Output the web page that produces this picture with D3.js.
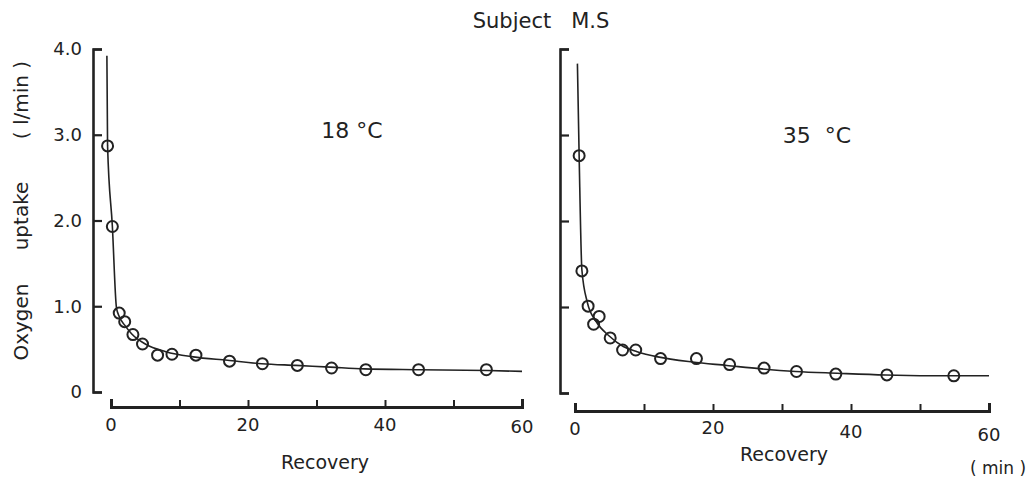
<!DOCTYPE html>
<html>
<head>
<meta charset="utf-8">
<script src="https://cdn.jsdelivr.net/npm/d3@7"></script>
<style>
  body { margin: 0; background: #fff; }
  svg { display: block; font-family: "DejaVu Sans", "Liberation Sans", sans-serif; }
  .axis path, .axis line { stroke: #222; }
  text { fill: #222; }
</style>
</head>
<body>
<div id="chart"></div>
<script>
// Data: recovery time (min) vs oxygen uptake (l/min)
const coldPointsT = [-0.5, 0.2, 1.2, 2.0, 3.2, 4.6, 6.8, 8.9, 12.4, 17.3, 22.1, 27.2, 32.2, 37.2, 44.9, 54.8];
const coldPointsV = [2.87, 1.93, 0.92, 0.82, 0.67, 0.56, 0.43, 0.44, 0.43, 0.36, 0.33, 0.31, 0.28, 0.26, 0.26, 0.26];
const coldCurveT = [-0.6, -0.5, 0.2, 0.8, 1.2, 2.0, 3.0, 5.0, 8.0, 12.0, 17.0, 22.0, 27.0, 32.0, 37.0, 45.0, 55.0, 60.0];
const coldCurveV = [3.92, 2.87, 1.93, 0.98, 0.88, 0.78, 0.68, 0.56, 0.47, 0.41, 0.37, 0.33, 0.31, 0.29, 0.27, 0.26, 0.25, 0.24];

const hotPointsT = [0.6, 1.0, 1.9, 2.7, 3.5, 5.1, 6.9, 8.8, 12.4, 17.6, 22.4, 27.4, 32.1, 37.8, 45.2, 54.9];
const hotPointsV = [2.76, 1.42, 1.01, 0.80, 0.89, 0.64, 0.50, 0.50, 0.40, 0.40, 0.33, 0.29, 0.25, 0.22, 0.21, 0.20];
const hotCurveT = [0.35, 0.6, 1.0, 1.8, 3.0, 5.0, 7.0, 9.0, 12.0, 17.0, 22.0, 27.0, 32.0, 38.0, 45.0, 55.0, 60.0];
const hotCurveV = [3.83, 2.76, 1.43, 1.05, 0.84, 0.66, 0.54, 0.48, 0.42, 0.36, 0.32, 0.28, 0.25, 0.23, 0.21, 0.20, 0.20];

const yTicks = [0, 1, 2, 3, 4];
const yTickLabels = ["0", "1.0", "2.0", "3.0", "4.0"];
const xTicks = [0, 10, 20, 30, 40, 50, 60];
const xTickLabels = [0, 20, 40, 60];

const config = {
    width: 1035,
    height: 478,
    panels: [
        { name: "18 °C", x: [111, 522], y: [392, 49], yAxisX: 93, xAxisY: 407,
          pT: coldPointsT, pV: coldPointsV, cT: coldCurveT, cV: coldCurveV,
          label: [352, 138], showYLabels: true, recovery: [325, 469],
          tickLabelDy: [24, 24, 24, 26] },
        { name: "35  °C", x: [575, 989], y: [393, 49], yAxisX: 560, xAxisY: 411,
          pT: hotPointsT, pV: hotPointsV, cT: hotCurveT, cV: hotCurveV,
          label: [817, 143], showYLabels: false, recovery: [784, 461],
          tickLabelDy: [24, 23, 27, 30] }
    ]
};

const svg = d3.select("#chart").append("svg")
    .attr("width", config.width)
    .attr("height", config.height);

svg.append("text")
    .attr("x", 541).attr("y", 28)
    .attr("text-anchor", "middle")
    .style("font-size", "21px")
    .attr("xml:space", "preserve")
    .text("Subject   M.S");

// y-axis title, three words spaced along the axis
const yTitle = [["Oxygen", 322], ["uptake", 216], ["( l/min )", 100]];
yTitle.forEach(([word, cy]) => {
    svg.append("text")
        .attr("transform", `translate(28,${cy}) rotate(-90)`)
        .attr("text-anchor", "middle")
        .attr("xml:space", "preserve")
        .style("font-size", "20px")
        .text(word);
});

config.panels.forEach(p => {
    const x = d3.scaleLinear().domain([0, 60]).range(p.x);
    const y = d3.scaleLinear().domain([0, 4]).range(p.y);

    // y axis: bracket with inward ticks
    const yAxis = svg.append("g")
        .attr("class", "axis")
        .attr("transform", `translate(${p.yAxisX},0)`)
        .call(d3.axisRight(y).tickValues(yTicks).tickSize(9).tickSizeOuter(9).tickFormat(""));
    yAxis.select(".domain").attr("stroke-width", 2.6).attr("fill", "none");
    yAxis.selectAll(".tick line").attr("stroke-width", 2.2);

    if (p.showYLabels) {
        svg.selectAll(null)
            .data(yTicks)
            .enter().append("text")
            .attr("x", 82)
            .attr("y", d => y(d))
            .attr("dy", "0.36em")
            .attr("text-anchor", "end")
            .style("font-size", "18px")
            .text((d, i) => yTickLabels[i]);
    }

    // x axis: separate line below, ticks pointing up
    const xAxis = svg.append("g")
        .attr("class", "axis")
        .attr("transform", `translate(0,${p.xAxisY})`)
        .call(d3.axisTop(x).tickValues(xTicks).tickSize(7).tickSizeOuter(8).tickFormat(""));
    xAxis.select(".domain").attr("stroke-width", 3).attr("fill", "none");
    xAxis.selectAll(".tick line").attr("stroke-width", 2);

    // hand-lettered tick labels sit at slightly uneven heights
    svg.selectAll(null)
        .data(xTickLabels)
        .enter().append("text")
        .attr("x", d => x(d))
        .attr("y", (d, i) => p.xAxisY + p.tickLabelDy[i])
        .attr("text-anchor", "middle")
        .style("font-size", "18px")
        .text(d => d);

    svg.append("text")
        .attr("x", p.recovery[0]).attr("y", p.recovery[1])
        .attr("text-anchor", "middle")
        .style("font-size", "19px")
        .text("Recovery");

    // fitted curve
    const curve = p.cT.map((t, i) => [t, p.cV[i]]);
    svg.append("path")
        .datum(curve)
        .attr("fill", "none")
        .attr("stroke", "#222")
        .attr("stroke-width", 1.6)
        .attr("d", d3.line().x(d => x(d[0])).y(d => y(d[1])).curve(d3.curveMonotoneX));

    // measured points
    svg.selectAll(null)
        .data(p.pT.map((t, i) => [t, p.pV[i]]))
        .enter().append("circle")
        .attr("cx", d => x(d[0]))
        .attr("cy", d => y(d[1]))
        .attr("r", 5.5)
        .attr("fill", "none")
        .attr("stroke", "#222")
        .attr("stroke-width", 2);

    svg.append("text")
        .attr("x", p.label[0]).attr("y", p.label[1])
        .attr("text-anchor", "middle")
        .style("font-size", "22px")
        .attr("xml:space", "preserve")
        .text(p.name);
});

svg.append("text")
    .attr("x", 998).attr("y", 474)
    .attr("text-anchor", "middle")
    .attr("xml:space", "preserve")
    .style("font-size", "17px")
    .text("( min )");
</script>
</body>
</html>
